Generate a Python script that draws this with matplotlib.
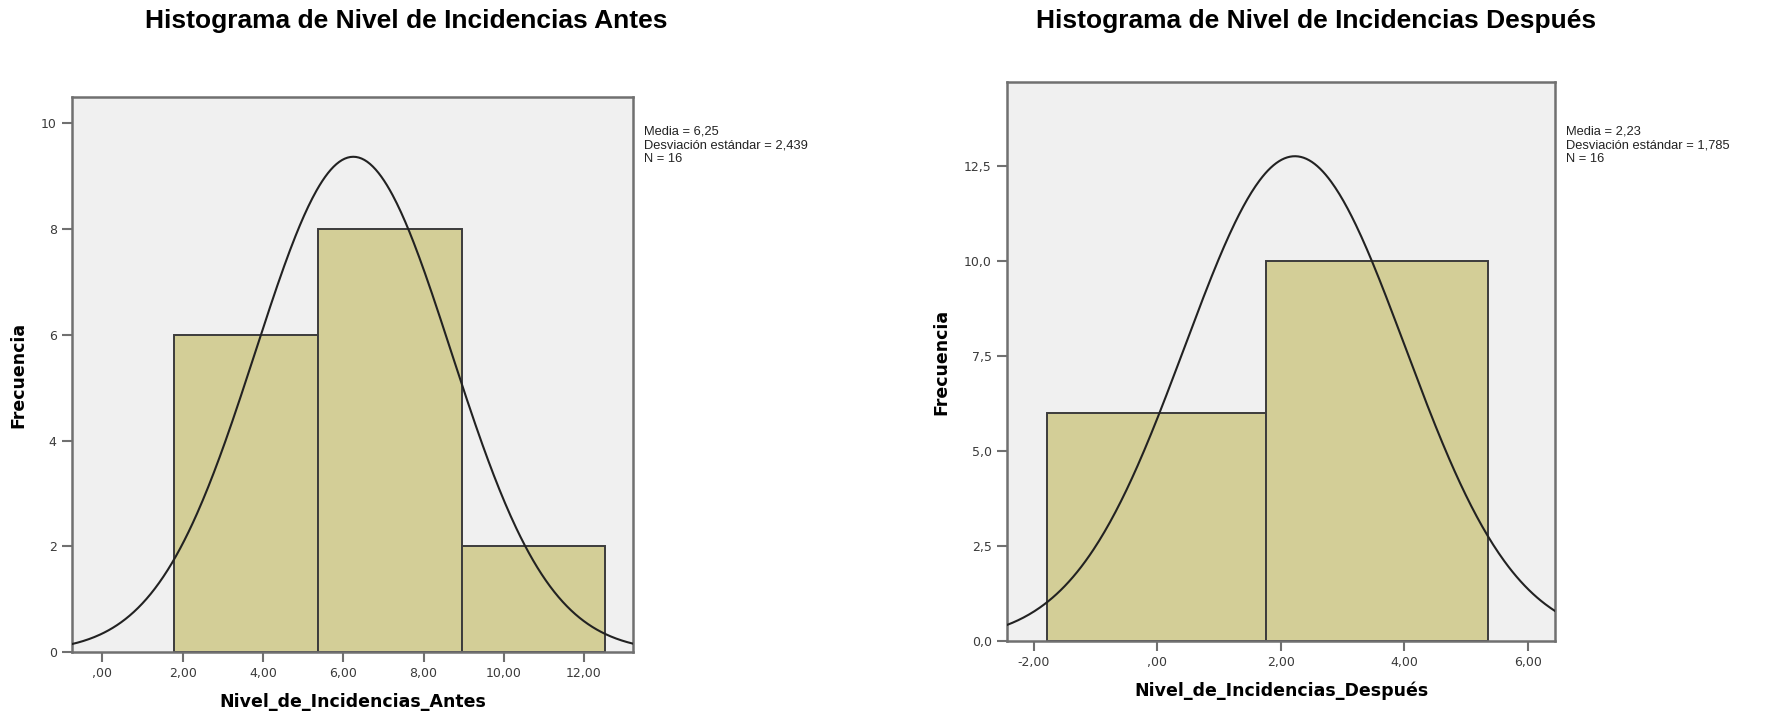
import numpy as np
import matplotlib.pyplot as plt
from matplotlib.ticker import FuncFormatter

# Antes
antes_edges = [1.79, 5.37, 8.95, 12.53]
antes_counts = [6, 8, 2]
antes_media = 6.25
antes_desv = 2.439
antes_n = 16

# Despues
despues_edges = [-1.78, 1.77, 5.35]
despues_counts = [6, 10]
despues_media = 2.23
despues_desv = 1.785
despues_n = 16

plt.rcParams["font.family"] = ["Liberation Sans", "DejaVu Sans"]

BG = "#f0f0f0"
BAR = "#d3ce97"
EDGE = "#3c3c3c"
SPINE = "#707070"


def coma(v, dec):
    s = f"{v:.{dec}f}".replace(".", ",")
    if s.startswith("0,"):
        s = s[1:]
    elif s.startswith("-0,"):
        s = "-" + s[2:]
    return s


def histograma(ax, edges, counts, media, desv, n, xlim, ylim, yticks, ydec,
               xticks, xlabel, title, title_x, fig):
    edges = np.array(edges)
    widths = np.diff(edges)
    ax.set_facecolor(BG)
    ax.bar(edges[:-1], counts, width=widths, align="edge", color=BAR,
           edgecolor=EDGE, linewidth=1.4, zorder=2)
    # curva normal con media, desviacion y N del histograma
    bw = widths.mean()
    xs = np.linspace(xlim[0], xlim[1], 400)
    ys = n * bw / (desv * np.sqrt(2 * np.pi)) * np.exp(-0.5 * ((xs - media) / desv) ** 2)
    ax.plot(xs, ys, color="#222222", linewidth=1.5, zorder=3)
    ax.set_xlim(xlim)
    ax.set_ylim(ylim)
    ax.set_xticks(xticks)
    ax.set_yticks(yticks)
    ax.xaxis.set_major_formatter(FuncFormatter(lambda v, p: coma(v, 2)))
    if ydec == 0:
        ax.yaxis.set_major_formatter(FuncFormatter(lambda v, p: f"{v:.0f}"))
    else:
        ax.yaxis.set_major_formatter(FuncFormatter(lambda v, p: f"{v:.1f}".replace(".", ",")))
    ax.tick_params(direction="out", length=7, width=1.5, color=SPINE,
                   labelsize=9, labelcolor="#3a3a3a", pad=4)
    for lab in ax.get_xticklabels() + ax.get_yticklabels():
        lab.set_family("DejaVu Sans")
    for s in ax.spines.values():
        s.set_color(SPINE)
        s.set_linewidth(1.8)
    ax.set_ylabel("Frecuencia", fontsize=12.5, fontweight="bold", labelpad=10,
                  family="DejaVu Sans")
    ax.set_xlabel(xlabel, fontsize=12.5, fontweight="bold", labelpad=9,
                  family="DejaVu Sans")
    pos = ax.get_position()
    fig.text(title_x, 1 - 21 / 716, title, fontsize=19, fontweight="bold",
             ha="center", va="center")
    stats = [f"Media = {media:.2f}".replace(".", ","),
             f"Desviación estándar = {desv:.3f}".replace(".", ","),
             f"N = {n}"]
    for i, line in enumerate(stats):
        fig.text(pos.x1 + 0.0062, 1 - (132 + 13.5 * i) / 716, line, fontsize=9.3,
                 color="#222222", ha="left", va="center")


fig = plt.figure(figsize=(17.69, 7.16), dpi=100)
ax1 = fig.add_axes([72 / 1769, 1 - 652 / 716, (633 - 72) / 1769, (652 - 97) / 716])
ax2 = fig.add_axes([1007 / 1769, 1 - 641 / 716, (1555 - 1007) / 1769, (641 - 82) / 716])

histograma(ax1, antes_edges, antes_counts, antes_media, antes_desv, antes_n,
           (-0.76, 13.22), (0, 10.5), [0, 2, 4, 6, 8, 10], 0,
           [0, 2, 4, 6, 8, 10, 12], "Nivel_de_Incidencias_Antes",
           "Histograma de Nivel de Incidencias Antes", 406 / 1769, fig)
histograma(ax2, despues_edges, despues_counts, despues_media, despues_desv, despues_n,
           (-2.43, 6.44), (0, 14.7), [0, 2.5, 5, 7.5, 10, 12.5], 1,
           [-2, 0, 2, 4, 6], "Nivel_de_Incidencias_Después",
           "Histograma de Nivel de Incidencias Después", 1316 / 1769, fig)

fig.savefig("out.png", dpi=100)
